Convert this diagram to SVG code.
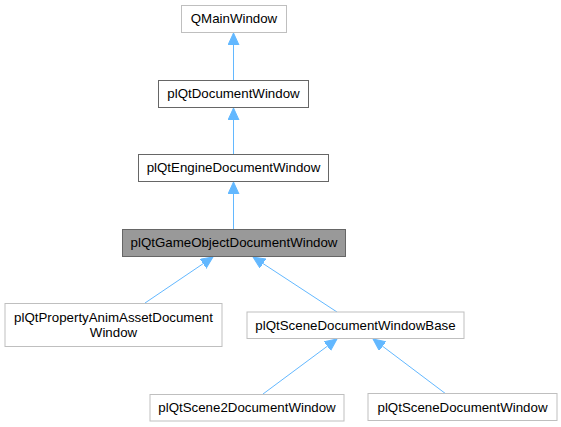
<svg xmlns="http://www.w3.org/2000/svg" width="561" height="427" viewBox="0 0 561 427">
<style>
.n rect{stroke-width:1}
.ext rect{fill:#fff;stroke:#bfbfbf}
.int rect{fill:#fff;stroke:#666}
.cur rect{fill:#999;stroke:#666}
text{font-family:"Liberation Sans",Arial,sans-serif;font-size:13.3px;fill:#000;text-anchor:middle}
.e line{stroke:#63b8ff;stroke-width:1;marker-end:url(#ah)}
</style>
<defs>
<marker id="ah" markerUnits="userSpaceOnUse" markerWidth="14" markerHeight="12" refX="12" refY="5.5" orient="auto">
<path d="M0,0 L12,5.5 L0,11 z" fill="#63b8ff" stroke="#63b8ff" stroke-width="1"/>
</marker>
</defs>
<rect width="561" height="427" fill="#fff"/>
<g id="edges" class="e">
<line x1="233.5" y1="80" x2="233.5" y2="33"/>
<line x1="233.5" y1="154" x2="233.5" y2="108"/>
<line x1="233.5" y1="229" x2="233.5" y2="182"/>
<line x1="145" y1="303" x2="213" y2="257"/>
<line x1="337" y1="312" x2="253" y2="257"/>
<line x1="263" y1="394" x2="337" y2="339"/>
<line x1="446" y1="394" x2="373" y2="339"/>
</g>
<g id="QMainWindow" class="n ext"><rect x="181.5" y="5.5" width="105" height="27"/><text x="234" y="23">QMainWindow</text></g>
<g id="plQtDocumentWindow" class="n int"><rect x="158.5" y="80.5" width="150" height="27"/><text x="233.5" y="98">plQtDocumentWindow</text></g>
<g id="plQtEngineDocumentWindow" class="n int"><rect x="138.5" y="154.5" width="190" height="27"/><text x="233.5" y="172">plQtEngineDocumentWindow</text></g>
<g id="plQtGameObjectDocumentWindow" class="n cur"><rect x="122.5" y="229.5" width="223" height="27"/><text x="234" y="247">plQtGameObjectDocumentWindow</text></g>
<g id="plQtPropertyAnimAssetDocumentWindow" class="n ext"><rect x="5" y="303.5" width="217" height="43"/><text x="113.5" y="322">plQtPropertyAnimAssetDocument</text><text x="113.5" y="337">Window</text></g>
<g id="plQtSceneDocumentWindowBase" class="n ext"><rect x="247" y="312" width="217" height="26.5"/><text x="355.5" y="329.5">plQtSceneDocumentWindowBase</text></g>
<g id="plQtScene2DocumentWindow" class="n ext"><rect x="150" y="394.5" width="194" height="26.5"/><text x="247" y="412">plQtScene2DocumentWindow</text></g>
<g id="plQtSceneDocumentWindow" class="n ext"><rect x="368" y="393.5" width="189" height="27"/><text x="462.5" y="411.5">plQtSceneDocumentWindow</text></g>
</svg>
